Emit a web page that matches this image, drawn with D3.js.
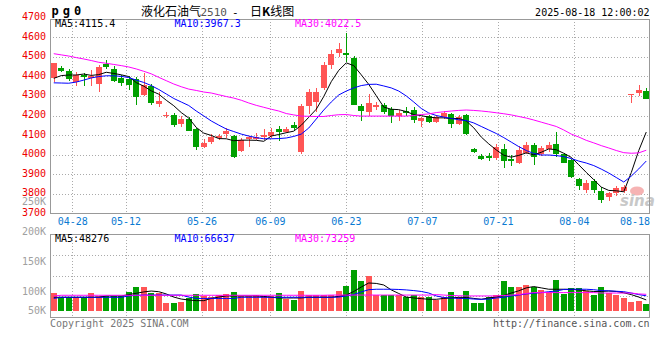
<!DOCTYPE html>
<html><head><meta charset="utf-8">
<script src="https://cdn.jsdelivr.net/npm/d3@7"></script>
<style>body{margin:0;background:#fff;}svg{display:block;}</style>
</head><body>
<svg id="c" width="660" height="360"></svg>
<script>
// ---------------- data ----------------
const dates = ["04-23","04-24","04-25","04-28","04-29","04-30","05-06","05-07","05-08","05-09",
"05-12","05-13","05-14","05-15","05-16","05-19","05-20","05-21","05-22","05-23",
"05-26","05-27","05-28","05-29","05-30","06-03","06-04","06-05","06-06","06-09",
"06-10","06-11","06-12","06-13","06-16","06-17","06-18","06-19","06-20","06-23",
"06-24","06-25","06-26","06-27","06-30","07-01","07-02","07-03","07-04","07-07",
"07-08","07-09","07-10","07-11","07-14","07-15","07-16","07-17","07-18","07-21",
"07-22","07-23","07-24","07-25","07-28","07-29","07-30","07-31","08-01","08-04",
"08-05","08-06","08-07","08-08","08-11","08-12","08-13","08-14","08-15","08-18"];

const openP = [4393,4444,4427,4370,4408,4390,4361,4462,4438,4393,
4388,4385,4305,4351,4259,4197,4203,4156,4181,4129,
4040,4066,4083,4105,4095,4020,4078,4080,4089,4095,
4129,4117,4151,4015,4249,4270,4339,4458,4521,4518,
4494,4249,4219,4243,4254,4232,4197,4223,4228,4173,
4197,4168,4191,4208,4156,4203,4030,3993,3994,3983,
4028,3976,3955,4010,4049,4003,4027,4054,4003,3972,
3874,3819,3867,3816,3782,3802,3814,4308,4315,4325];
const highP = [4470,4451,4436,4420,4416,4433,4458,4484,4453,4407,
4402,4395,4416,4361,4322,4219,4211,4197,4191,4135,
4082,4105,4104,4135,4100,4083,4095,4109,4131,4135,
4146,4140,4167,4260,4337,4339,4472,4535,4569,4620,
4504,4260,4310,4271,4265,4243,4228,4242,4242,4194,
4204,4204,4224,4214,4203,4208,4035,4003,4010,4054,
4054,3998,4044,4066,4059,4044,4066,4116,4010,3976,
3879,3870,3874,3836,3810,3840,3845,4311,4356,4339];
const lowP = [4373,4422,4378,4351,4352,4351,4320,4438,4373,4351,
4330,4254,4300,4254,4245,4189,4143,4143,4119,4024,
4035,4054,4075,4083,3984,4015,4037,4075,4075,4083,
4071,4109,4126,4003,4208,4219,4330,4436,4501,4475,
4254,4173,4197,4228,4208,4163,4173,4197,4163,4140,
4163,4163,4181,4135,4151,4100,4007,3972,3969,3975,
3930,3942,3950,4003,3947,3994,4015,3988,3956,3879,
3819,3802,3805,3754,3764,3788,3805,4265,4300,4282];
const closeP = [4467,4429,4385,4408,4398,4403,4449,4446,4378,4365,
4356,4293,4356,4262,4276,4203,4151,4181,4122,4037,
4060,4092,4097,4121,3986,4075,4089,4092,4100,4117,
4117,4132,4135,4249,4322,4322,4458,4514,4540,4511,
4254,4223,4265,4254,4219,4199,4214,4214,4177,4189,
4168,4194,4214,4155,4194,4105,4015,3979,3984,4039,
3967,3966,4024,4049,3989,4032,4049,4005,3959,3887,
3840,3856,3819,3768,3802,3828,3833,4311,4330,4282];

const ma5 = [4390,4404,4407,4407,4412,4405,4409,4421,4415,4408,
4399,4368,4350,4326,4309,4278,4250,4215,4187,4139,
4110,4098,4082,4081,4071,4074,4074,4073,4068,4095,
4103,4112,4120,4150,4191,4232,4297,4373,4431,4469,
4455,4408,4359,4301,4243,4232,4230,4220,4205,4199,
4192,4188,4188,4184,4185,4172,4137,4090,4055,4024,
3997,3987,3996,4009,3999,4012,4029,4025,4007,3986,
3948,3909,3872,3834,3817,3815,3810,3908,4021,4115.4];
const ma10 = [4367,4366,4365,4371,4381,4392,4399,4403,4403,4400,
4394,4381,4369,4353,4333,4310,4287,4269,4251,4223,
4198,4172,4151,4131,4118,4105,4095,4087,4081,4081,
4082,4085,4093,4105,4136,4182,4228,4269,4305,4325,
4341,4353,4359,4360,4351,4341,4325,4300,4269,4236,
4213,4200,4192,4185,4178,4174,4162,4144,4126,4108,
4087,4064,4041,4021,4006,3998,3998,3995,3990,3980,
3967,3957,3944,3926,3906,3883,3860,3890,3927,3967.3];
const ma30 = [4516,4510,4504,4496,4489,4481,4472,4467,4461,4455,
4448,4438,4426,4413,4395,4378,4361,4347,4335,4328,
4320,4315,4306,4297,4289,4278,4264,4252,4242,4232,
4223,4210,4203,4197,4196,4195,4195,4200,4204,4205,
4200,4197,4197,4197,4197,4197,4197,4197,4200,4205,
4208,4215,4219,4223,4226,4228,4226,4223,4219,4214,
4209,4203,4195,4187,4177,4166,4155,4144,4126,4105,
4090,4073,4060,4046,4034,4021,4010,4007,4009,4022.5];

const volume = [79000,60000,60000,60000,60000,79000,66000,66000,66000,66000,
84000,106000,106000,81000,81000,36000,36000,40000,55000,75000,
66000,60000,70000,75000,84000,66000,66000,70000,66000,66000,
81000,52000,48000,88000,70000,70000,70000,70000,89000,110000,
182000,133000,155000,70000,70000,70000,70000,63000,70000,60000,
60000,48000,60000,84000,60000,88000,36000,36000,60000,70000,
133000,106000,106000,115000,106000,93000,85000,137000,75000,100000,
100000,88000,70000,106000,78000,70000,58000,40000,45000,30000];
const volMa5 = [60000,60000,60000,60000,60000,60000,60000,66000,66000,66000,
72000,78000,84000,88000,85000,75000,61000,52000,48000,45000,
45000,55000,61000,66000,66000,66000,66000,66000,64000,60000,
57000,57000,57000,57000,60000,60000,60000,60000,64000,70000,
86000,106000,124000,122000,115000,93000,77000,61000,57000,54000,
51000,51000,55000,57000,60000,59000,55000,51000,57000,61000,
68000,79000,89000,102000,108000,102000,96000,96000,96000,95000,
93000,89000,86000,86000,88000,86000,80000,72000,61000,48276];
const volMa10 = [55000,60000,60000,60000,60000,60000,60000,60000,60000,60000,
66000,69000,70000,70000,70000,70000,70000,70000,61000,55000,
55000,55000,55000,55000,55000,60000,60000,60000,60000,60000,
60000,60000,60000,60000,60000,60000,60000,60000,61000,66000,
72000,84000,94000,96000,96000,96000,95000,93000,90000,86000,
79000,66000,59000,57000,55000,55000,52000,51000,52000,57000,
60000,66000,70000,75000,78000,81000,85000,88000,95000,96000,
96000,96000,94000,90000,89000,87000,85000,79000,72000,66637];
const volMa30 = [66000,69000,69000,69000,69000,69000,69000,69000,69000,69000,
69000,69000,69000,69000,69000,69000,69000,69000,69000,69000,
69000,69000,69000,69000,69000,69000,69000,69000,69000,69000,
69000,69000,69000,69000,69000,69000,69000,70000,70000,70000,
70000,70000,70000,70000,70000,70000,70000,70000,70000,70000,
70000,72000,70000,68000,67000,66000,66000,66000,66000,66000,
68000,70000,72000,77000,81000,81000,81000,81000,81000,81000,
81000,81000,81000,79000,79000,79000,79000,79000,75000,73259];

const priceTicks = [3700,3800,3900,4000,4100,4200,4300,4400,4500,4600,4700];
const volTicks = [50000,100000,150000,200000,250000];
const dateTicks = ["04-28","05-12","05-26","06-09","06-23","07-07","07-21","08-04","08-18"];
const maNames = ["MA5","MA10","MA30"];
const maColors = ["#000000","#0000ff","#ff00ff"];
const symbol = "pg0";
const titleParts = ["液化石油气","2510","-","日","K","线图"];
const stamp = "2025-08-18 12:00:02";

// ---------------- layout ----------------
const L = 50, R = 650;
const FONT = "'DejaVu Sans Mono', 'Liberation Mono', monospace";
const UP = "#ff5555", DOWN = "#00a000";
const svg = d3.select("#c");

const x = d3.scaleBand().domain(d3.range(dates.length)).range([L, R]).paddingInner(0.2).paddingOuter(0.1);
const cx = i => x(i) + x.bandwidth() / 2;
const xGrid = d3.scaleLinear().domain([0, dates.length - 1]).range([49.5, 649.9]);
const yP = d3.scaleLinear().domain([3700, 4700]).range([213.3, 17.7]);
const pTop = 19, pBot = yP(3700);
const vTop = 234, vBot = 317.3, vBase = 310.7;
const yV = d3.scaleLinear().domain([0, 100000]).range([vBase, vBase - 22.35]);
const yVLabel = d3.scaleLinear().domain([50000, 100000, 250000]).range([310.1, 290.8, 200.8]);
const vGrid = d3.scaleLinear().domain([0, 4]).range([vBot, vTop]);

const gridStyle = s => s.attr("stroke", "#aaa").attr("stroke-width", 1).attr("stroke-dasharray", "1,2").attr("shape-rendering", "crispEdges");
const tickIdx = dateTicks.map(d => dates.indexOf(d));

// vertical gridlines
[[pTop, pBot], [vTop, vBot]].forEach(([t, b]) => {
  svg.append("g").selectAll("line").data(tickIdx.filter(i => i < dates.length - 1)).join("line")
    .attr("x1", i => Math.round(xGrid(i)) + 0.5).attr("x2", i => Math.round(xGrid(i)) + 0.5)
    .attr("y1", t).attr("y2", b).call(gridStyle);
});
// horizontal price gridlines
svg.append("g").selectAll("line").data(priceTicks.filter(v => v > 3700 && v < 4700)).join("line")
  .attr("x1", L).attr("x2", R).attr("y1", v => Math.round(yP(v)) + 0.5).attr("y2", v => Math.round(yP(v)) + 0.5).call(gridStyle);
// horizontal volume gridlines
svg.append("g").selectAll("line").data([1, 2, 3]).join("line")
  .attr("x1", L).attr("x2", R).attr("y1", k => Math.round(vGrid(k)) + 0.5).attr("y2", k => Math.round(vGrid(k)) + 0.5).call(gridStyle);

// watermark
const wm = svg.append("g");
wm.append("ellipse").attr("cx", 637).attr("cy", 191).attr("rx", 7).attr("ry", 4.5).attr("fill", "#f6b3b3");
wm.append("text").attr("x", 620).attr("y", 206).attr("font-family", "'DejaVu Sans', sans-serif")
  .attr("font-size", 15).attr("font-style", "italic").attr("font-weight", "bold").attr("fill", "#c8c8c8").text("sina");

// candles
const idx = d3.range(dates.length);
const colorOf = i => closeP[i] >= openP[i] ? UP : DOWN;
const cg = svg.append("g").attr("shape-rendering", "crispEdges");
cg.selectAll("rect.wick").data(idx).join("rect").attr("class", "wick")
  .attr("x", i => Math.round(x(i)) + 3).attr("width", 1)
  .attr("y", i => yP(highP[i])).attr("height", i => Math.max(1, yP(lowP[i]) - yP(highP[i])))
  .attr("fill", colorOf);
cg.selectAll("rect.body").data(idx).join("rect").attr("class", "body")
  .attr("x", i => Math.round(x(i))).attr("width", 6)
  .attr("y", i => yP(Math.max(openP[i], closeP[i])))
  .attr("height", i => Math.max(1, Math.abs(yP(openP[i]) - yP(closeP[i]))))
  .attr("fill", colorOf);

// price MA lines
const lineP = d3.line().x((d, i) => cx(i)).y(d => yP(d));
[ma5, ma10, ma30].forEach((arr, k) => {
  svg.append("path").datum(arr).attr("d", lineP).attr("fill", "none").attr("stroke", maColors[k]).attr("stroke-width", 1);
});

// volume bars
svg.append("g").attr("shape-rendering", "crispEdges").selectAll("rect").data(idx).join("rect")
  .attr("x", i => Math.round(x(i))).attr("width", 6)
  .attr("y", i => yV(volume[i])).attr("height", i => vBase - yV(volume[i]))
  .attr("fill", colorOf);
const lineV = d3.line().x((d, i) => cx(i)).y(d => yV(d));
[volMa5, volMa10, volMa30].forEach((arr, k) => {
  svg.append("path").datum(arr).attr("d", lineV).attr("fill", "none").attr("stroke", maColors[k]).attr("stroke-width", 1);
});

// frames
[[pTop, pBot], [vTop, vBot]].forEach(([t, b]) => {
  svg.append("rect").attr("x", L + 0.5).attr("y", Math.round(t) + 0.5).attr("width", R - L - 1).attr("height", Math.round(b) - Math.round(t))
    .attr("fill", "none").attr("stroke", "#999").attr("shape-rendering", "crispEdges");
});

// price axis
const ay = svg.append("g").attr("transform", `translate(${L},0)`)
  .call(d3.axisLeft(yP).tickValues(priceTicks).tickSize(0).tickPadding(4).tickFormat(d3.format("d")));
ay.select(".domain").remove();
ay.selectAll("text").attr("font-family", FONT).attr("font-size", 10).attr("fill", "#ee0000").attr("dy", "0.2em");

// volume axis
const av = svg.append("g").attr("transform", `translate(${L},0)`)
  .call(d3.axisLeft(yVLabel).tickValues(volTicks).tickSize(0).tickPadding(4).tickFormat(v => (v / 1000) + "K"));
av.select(".domain").remove();
av.selectAll("text").attr("font-family", FONT).attr("font-size", 10).attr("fill", "#a0a0a0");

// date axis
const ax = svg.append("g").attr("transform", `translate(0,${pBot})`)
  .call(d3.axisBottom(xGrid).tickValues(tickIdx).tickSize(0).tickPadding(5).tickFormat(i => dates[i]));
ax.select(".domain").remove();
ax.selectAll("text").attr("font-family", FONT).attr("font-size", 10).attr("fill", "#0a7ad2");
ax.selectAll(".tick").filter(i => i === dates.length - 1).select("text")
  .attr("text-anchor", "end").attr("x", R - 0.5 - xGrid(dates.length - 1));

// MA labels
const maX = [55, 174.5, 295];
const priceLast = [ma5, ma10, ma30].map(a => a[a.length - 1]);
const volLast = [volMa5, volMa10, volMa30].map(a => a[a.length - 1]);
maNames.forEach((n, k) => {
  svg.append("text").attr("x", maX[k]).attr("y", 27.3).attr("font-family", FONT).attr("font-size", 10)
    .attr("fill", maColors[k]).text(n + ":" + d3.format(".1f")(priceLast[k]));
  svg.append("text").attr("x", maX[k]).attr("y", 241.7).attr("font-family", FONT).attr("font-size", 10)
    .attr("fill", maColors[k]).text(n + ":" + d3.format("d")(volLast[k]));
});

// header
svg.append("text").attr("x", 51.5).attr("y", 15).attr("font-family", FONT).attr("font-size", 12)
  .attr("font-weight", "bold").attr("letter-spacing", 4).attr("fill", "#000").text(symbol);
const t = svg.append("text").attr("y", 15.5).attr("fill", "#000");
const cjk = "'Noto Sans CJK SC', sans-serif";
t.append("tspan").attr("x", 141).attr("font-family", cjk).attr("font-size", 12).text(titleParts[0]);
t.append("tspan").attr("x", 200.5).attr("font-family", FONT).attr("font-size", 11).attr("fill", "#555").text(titleParts[1]);
t.append("tspan").attr("x", 232).attr("font-family", FONT).attr("font-size", 11).text(titleParts[2]);
t.append("tspan").attr("x", 250).attr("font-family", cjk).attr("font-size", 12).text(titleParts[3]);
t.append("tspan").attr("font-family", cjk).attr("font-size", 12).attr("font-weight", "bold").text(titleParts[4]);
t.append("tspan").attr("font-family", cjk).attr("font-size", 12).text(titleParts[5]);
svg.append("text").attr("x", 649.5).attr("y", 15.7).attr("text-anchor", "end").attr("font-family", FONT)
  .attr("font-size", 10).attr("fill", "#000").text(stamp);

// footer
svg.append("text").attr("x", 50).attr("y", 326.7).attr("font-family", FONT).attr("font-size", 10)
  .attr("fill", "#777").text("Copyright 2025 SINA.COM");
svg.append("text").attr("x", 649.5).attr("y", 326.7).attr("text-anchor", "end").attr("font-family", FONT)
  .attr("font-size", 10).attr("fill", "#555").text("http://finance.sina.com.cn");
</script>
</body></html>
